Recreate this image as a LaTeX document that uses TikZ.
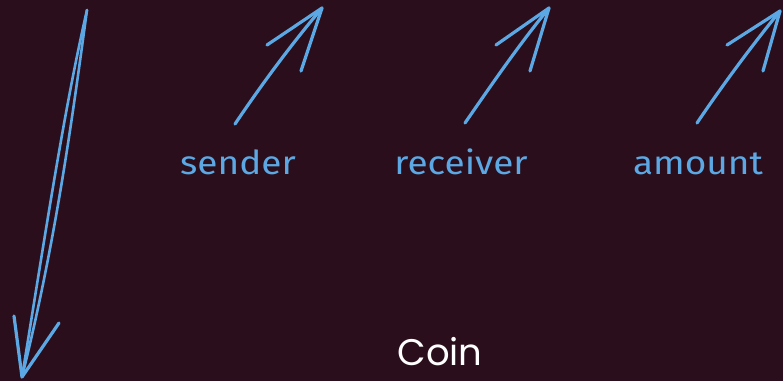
\documentclass[tikz,border=0pt]{standalone}
\usepackage{fontspec}
\setmainfont{Poppins}
\newfontfamily\handfont{Fira Sans}
\definecolor{bgc}{HTML}{2B0E1B}
\definecolor{skblue}{HTML}{5CA8E4}
\begin{document}
\begin{tikzpicture}[x=1pt,y=-1pt,
  sk/.style={draw=skblue,line width=3.2pt,line cap=round,line join=round},
  lbl/.style={text=skblue,font=\handfont\fontsize{33}{36}\selectfont,inner sep=0pt,anchor=center,xscale=1.12},
  title/.style={text=white,font=\fontsize{37}{42}\selectfont,inner sep=0pt,anchor=center}]
\fill[bgc] (0,0) rectangle (783,381);
\useasboundingbox (0,0) rectangle (783,381);
% long downward arrow
\coordinate (dtop) at (87,10);
\coordinate (dtip) at (22,377);
\coordinate (dbl) at (14,316);
\coordinate (dbr) at (59,323);
\draw[sk,line width=2.6pt] (dtop) .. controls (64,110) and (46,230) .. (dtip);
\draw[sk,line width=2.6pt] (dtop) .. controls (72,120) and (56,240) .. (dtip);
\draw[sk] (dbl) -- (dtip) -- (dbr);
% sender arrow
\coordinate (s0) at (235,124);
\coordinate (s1) at (322,8);
\coordinate (sl) at (267,45);
\coordinate (sr) at (301,71);
\draw[sk] (s0) .. controls (262,84) and (290,46) .. (s1);
\draw[sk] (sl) -- (s1) -- (sr);
% receiver arrow
\coordinate (r0) at (465,123);
\coordinate (r1) at (549,8);
\coordinate (rl) at (496,45);
\coordinate (rr) at (530,71);
\draw[sk] (r0) .. controls (492,84) and (518,46) .. (r1);
\draw[sk] (rl) -- (r1) -- (rr);
% amount arrow
\coordinate (a0) at (697,123);
\coordinate (a1) at (780,11);
\coordinate (al) at (727,45);
\coordinate (ar) at (763,71);
\draw[sk] (a0) .. controls (722,86) and (750,48) .. (a1);
\draw[sk] (al) -- (a1) -- (ar);
% labels
\node[lbl] (sender) at (238,162) {sender};
\node[lbl] (receiver) at (461,162) {receiver};
\node[lbl] (amount) at (698,164) {amount};
\node[title] (coin) at (440,352) {Coin};
\end{tikzpicture}
\end{document}
